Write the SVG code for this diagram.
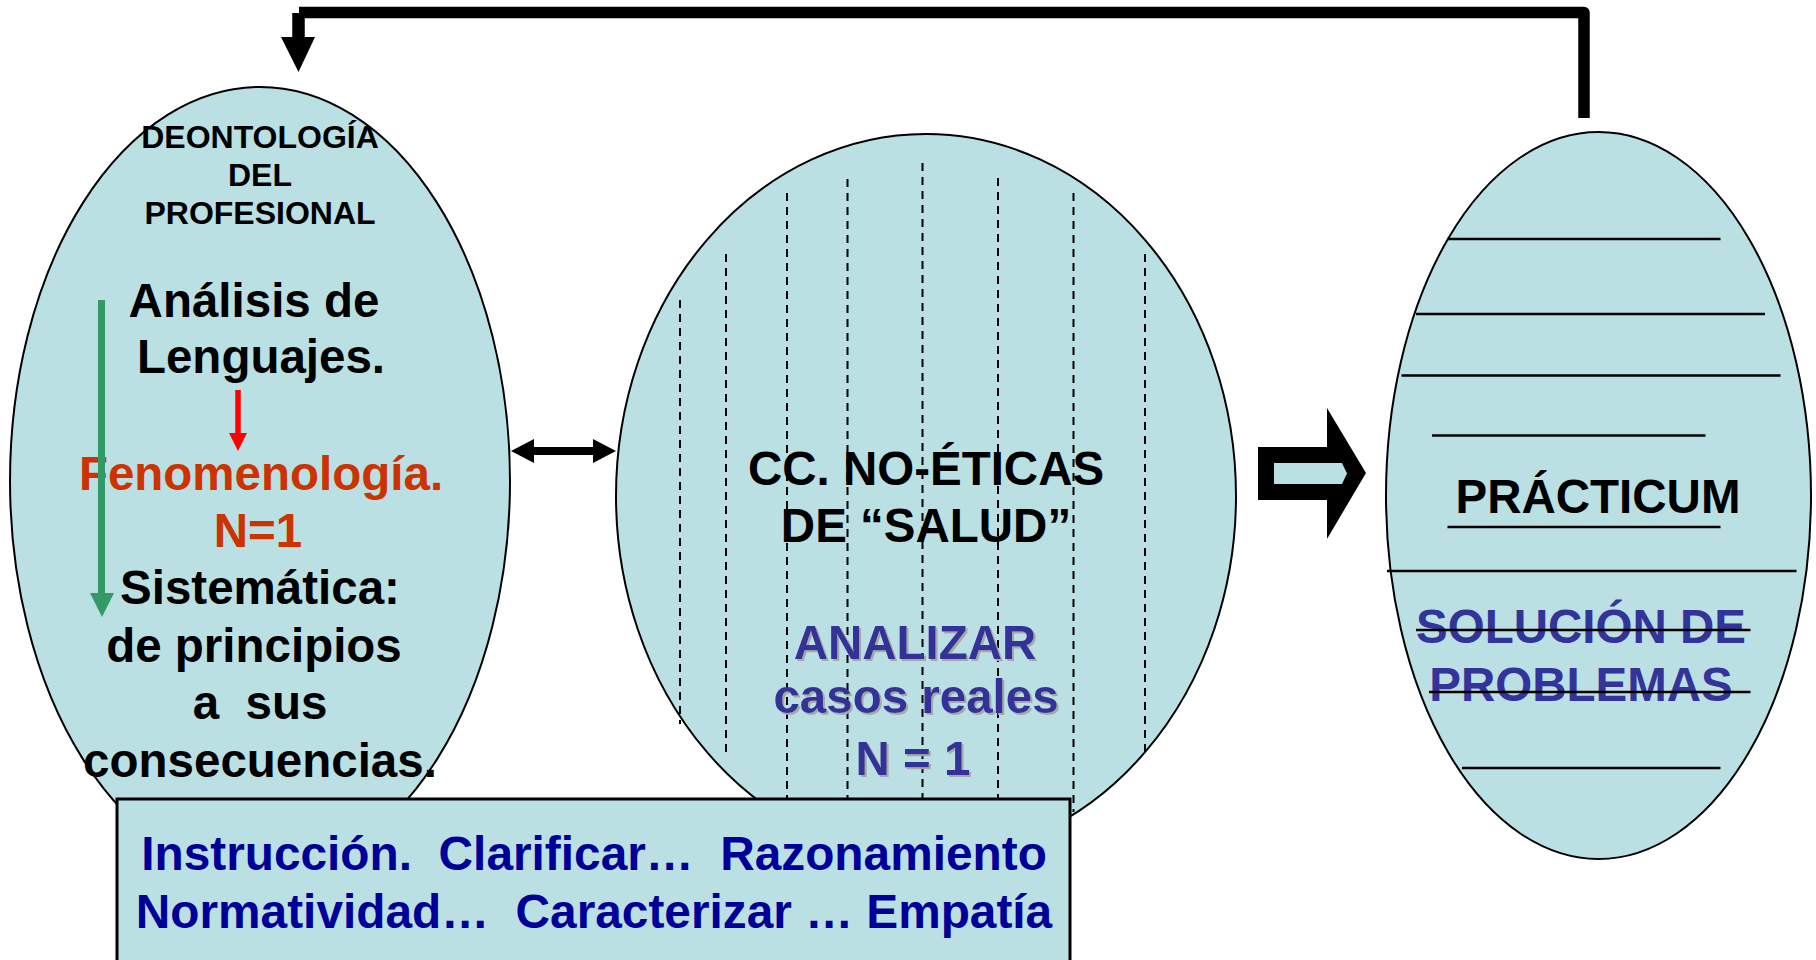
<svg xmlns="http://www.w3.org/2000/svg" width="1816" height="960" viewBox="0 0 1816 960">
<style>
.node{fill:#BBE0E3;stroke:#000;stroke-width:2}
.t{font-family:"Liberation Sans",Arial,sans-serif;font-weight:bold;text-anchor:middle;white-space:pre}
.k{fill:#000}
.o{fill:#CC3300}
.p{fill:#333399}
.n{fill:#000099}
.s32{font-size:32px}
.s48{font-size:47.5px}
.s48b{font-size:47.8px}
.dash{stroke:#000;stroke-width:2;stroke-dasharray:8 6;fill:none}
.hl{stroke:#000;stroke-width:2.5}
</style>
<defs>
<filter id="sh" x="-10%" y="-10%" width="120%" height="130%">
<feOffset in="SourceAlpha" dx="2" dy="2" result="o"/>
<feFlood flood-color="#A8A8A8"/>
<feComposite in2="o" operator="in" result="s"/>
<feMerge><feMergeNode in="s"/><feMergeNode in="SourceGraphic"/></feMerge>
</filter>
</defs>
<rect width="1816" height="960" fill="#fff"/>

<g id="node-deontologia">
<ellipse class="node" cx="260" cy="481" rx="250" ry="394"/>
<text class="t k s32" x="260" y="148">DEONTOLOGÍA</text>
<text class="t k s32" x="260" y="186">DEL</text>
<text class="t k s32" x="260" y="224">PROFESIONAL</text>
<text class="t k s48" x="254" y="317">Análisis de</text>
<text class="t k s48" x="261" y="373">Lenguajes.</text>
<text class="t o s48" x="261" y="490">Fenomenología.</text>
<text class="t o s48" x="258" y="547">N=1</text>
<text class="t k s48" x="260" y="604">Sistemática:</text>
<text class="t k s48" x="254" y="662">de principios</text>
<text class="t k s48" x="260" y="719">a  sus</text>
<text class="t k s48" x="260" y="777">consecuencias.</text>
<line x1="238" y1="390" x2="238" y2="436" stroke="#FF0000" stroke-width="5.5"/>
<polygon points="229,433 247,433 238,451" fill="#FF0000"/>
<line x1="101.5" y1="300" x2="101.5" y2="596" stroke="#339966" stroke-width="7"/>
<polygon points="90,593 114,593 102,617" fill="#339966"/>
</g>

<g id="node-cc">
<ellipse class="node" cx="926" cy="496" rx="310" ry="362"/>
<line class="dash" x1="680" y1="300" x2="680" y2="724"/>
<line class="dash" x1="726" y1="254" x2="726" y2="753"/>
<line class="dash" x1="787" y1="193" x2="787" y2="800"/>
<line class="dash" x1="847.5" y1="179" x2="847.5" y2="800"/>
<line class="dash" x1="922.5" y1="163" x2="922.5" y2="800"/>
<line class="dash" x1="998" y1="178" x2="998" y2="800"/>
<line class="dash" x1="1073.5" y1="193" x2="1073.5" y2="812"/>
<line class="dash" x1="1145" y1="254" x2="1145" y2="752"/>
<text class="t k s48" x="926" y="485">CC. NO-ÉTICAS</text>
<text class="t k s48" x="926" y="542">DE “SALUD”</text>
<g filter="url(#sh)">
<text class="t p s48" x="915" y="659">ANALIZAR</text>
<text class="t p s48" x="916" y="713">casos reales</text>
<text class="t p s48" x="913" y="775">N = 1</text>
</g>
</g>

<g id="node-practicum">
<ellipse class="node" cx="1598.5" cy="495.5" rx="212.5" ry="363.5"/>
<text class="t k s48" x="1598" y="513">PRÁCTICUM</text>
<text class="t p s48" x="1581" y="643">SOLUCIÓN DE</text>
<text class="t p s48" x="1581" y="701">PROBLEMAS</text>
<line class="hl" x1="1447.5" y1="239" x2="1720.5" y2="239"/>
<line class="hl" x1="1416" y1="314" x2="1765" y2="314"/>
<line class="hl" x1="1401.5" y1="375.5" x2="1780.5" y2="375.5"/>
<line class="hl" x1="1432" y1="435.5" x2="1705.5" y2="435.5"/>
<line class="hl" x1="1447.5" y1="527" x2="1720.5" y2="527"/>
<line class="hl" x1="1387" y1="571" x2="1796.5" y2="571"/>
<line class="hl" x1="1416" y1="630" x2="1750.5" y2="630"/>
<line class="hl" x1="1429" y1="692" x2="1750.5" y2="692"/>
<line class="hl" x1="1462" y1="768" x2="1720.5" y2="768"/>
</g>

<g id="node-instruccion">
<rect x="117" y="799" width="953" height="180" fill="#BBE0E3" stroke="#000" stroke-width="3"/>
<text class="t n s48b" x="594" y="870">Instrucción.  Clarificar…  Razonamiento</text>
<text class="t n s48b" x="594" y="928">Normatividad…  Caracterizar … Empatía</text>
</g>

<g id="connectors">
<path d="M1584 118 V12.5 H299" fill="none" stroke="#000" stroke-width="11.5" stroke-linejoin="round"/>
<line x1="298.5" y1="13" x2="298.5" y2="40" stroke="#000" stroke-width="12.5"/>
<polygon points="281,37 315,37 298.5,72" fill="#000"/>
<line x1="532" y1="451" x2="595" y2="451" stroke="#000" stroke-width="8"/>
<polygon points="511,451 534,439 534,463" fill="#000"/>
<polygon points="616,451 593,439 593,463" fill="#000"/>
<polygon points="1258,447 1327,447 1327,408 1366,473 1327,539 1327,500 1258,500" fill="#000"/>
<polygon points="1274,463 1342,463 1347,473.5 1342,484 1274,484" fill="#BBE0E3"/>
</g>
</svg>
